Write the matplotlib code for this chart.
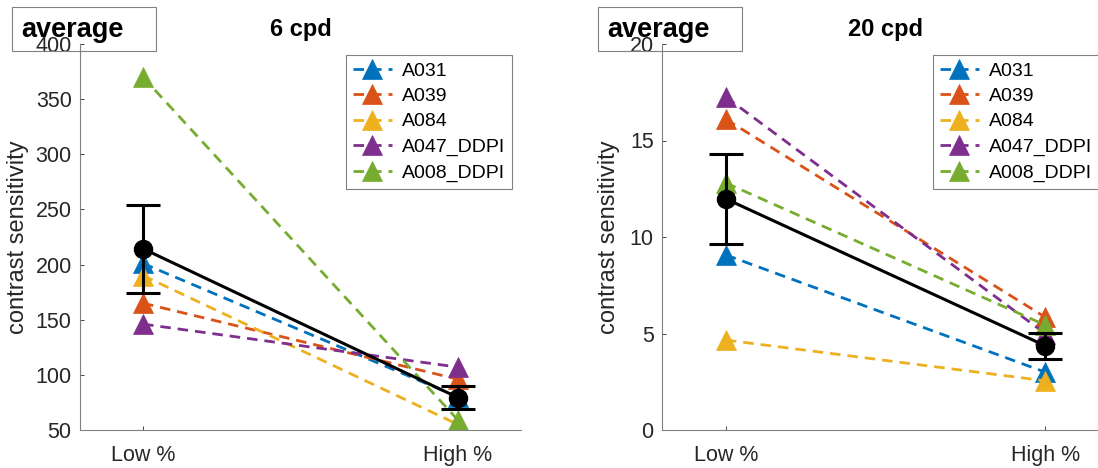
import numpy as np
import matplotlib
matplotlib.use('Agg')
import matplotlib.pyplot as plt

plt.rcParams['font.family'] = ['Liberation Sans', 'DejaVu Sans']

# data
subjects = ['A031', 'A039', 'A084', 'A047_DDPI', 'A008_DDPI']
conditions = ['Low %', 'High %']
colors = ['#0072BD', '#D95319', '#EDB120', '#7E2F8E', '#77AC30']

cs_6cpd_low = [201, 165, 190, 146, 370]
cs_6cpd_high = [80, 96, 55, 107, 59]
cs_20cpd_low = [9.07, 16.1, 4.66, 17.25, 12.8]
cs_20cpd_high = [3.0, 5.85, 2.55, 5.0, 5.44]

panels = [
    ('6 cpd', cs_6cpd_low, cs_6cpd_high, (50, 400), np.arange(50, 401, 50)),
    ('20 cpd', cs_20cpd_low, cs_20cpd_high, (0, 20), np.arange(0, 21, 5)),
]

W, H = 1098, 468
fig = plt.figure(figsize=(W / 100, H / 100), dpi=100)

axes_px = [(80, 441), (662, 447)]   # left edge, width in pixels
ylabel_px = [29, 620]
legend_px = [346, 933]
box_px = [12, 598]

for i, (title, low, high, ylim, yticks) in enumerate(panels):
    left, width = axes_px[i]
    ax = fig.add_axes([left / W, (H - 430) / H, width / W, 386 / H])
    x = np.arange(1, len(conditions) + 1)

    for s, c, lo, hi in zip(subjects, colors, low, high):
        ax.plot(x, [lo, hi], color=c, lw=2, linestyle=(0, (3.8, 2.5)),
                marker='^', ms=15, mec=c, mew=0.5, label=s)

    # mean +/- sem
    vals = np.array([low, high])
    mean = vals.mean(axis=1)
    sem = vals.std(axis=1, ddof=1) / np.sqrt(vals.shape[1])
    ax.errorbar(x, mean, yerr=sem, color='k', lw=2.2, capsize=12, capthick=2.2,
                marker='o', ms=13, zorder=5)

    ax.set_xlim(0.8, 2.2)
    ax.set_ylim(*ylim)
    ax.set_xticks(x)
    ax.set_xticklabels(conditions)
    ax.set_yticks(yticks)
    ax.tick_params(direction='in', length=3, width=0.6, colors='#262626',
                   labelsize=15.5)
    ax.tick_params(axis='x', pad=11)
    ax.tick_params(axis='y', pad=6)
    for sp in ['top', 'right']:
        ax.spines[sp].set_visible(False)
    for sp in ['left', 'bottom']:
        ax.spines[sp].set_color('#808080')
        ax.spines[sp].set_linewidth(0.8)

    ax.set_ylabel('contrast sensitivity', fontsize=17, color='#262626')
    ax.yaxis.set_label_coords((ylabel_px[i] - left) / width, 0.5)
    ax.set_title(title, fontsize=17, fontweight='bold', pad=6)

    leg = ax.legend(loc='upper left', bbox_to_anchor=(legend_px[i] / W, 1 - 55 / H),
                    bbox_transform=fig.transFigure, borderaxespad=0,
                    fontsize=14, handlelength=2.0, handletextpad=0.5,
                    labelspacing=0.4, borderpad=0.36, fancybox=False,
                    framealpha=1, edgecolor='#808080')
    leg.get_frame().set_linewidth(0.8)

    # "average" annotation box
    bx = box_px[i]
    fig.patches.append(plt.Rectangle((bx / W, 1 - 51 / H), 144 / W, 44 / H,
                                     transform=fig.transFigure, fill=False,
                                     edgecolor='#808080', lw=0.8, zorder=10))
    fig.text((bx + 9) / W, 1 - 37 / H, 'average', fontsize=19.5,
             fontweight='bold', va='baseline', ha='left', zorder=11)

fig.savefig('out.png', dpi=100)
